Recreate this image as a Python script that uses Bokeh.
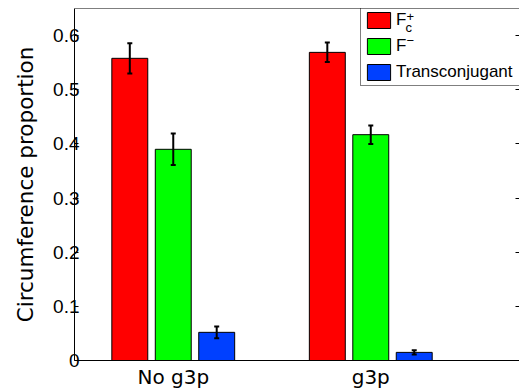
import numpy as np
from bokeh.plotting import figure
from bokeh.models import (ColumnDataSource, Whisker, TeeHead, FixedTicker, LinearAxis,
                          Range1d, Legend, LegendItem, Label, Span)
from bokeh.embed import file_html
from bokeh.resources import INLINE

# ---- data ----
categories = ["No g3p", "g3p"]
fc_plus = [0.558, 0.569]
fc_plus_err = [0.028, 0.018]
f_minus = [0.390, 0.417]
f_minus_err = [0.029, 0.017]
transconjugant = [0.052, 0.015]
transconjugant_err = [0.011, 0.004]
y_ticks = [0, 0.1, 0.2, 0.3, 0.4, 0.5, 0.6]
y_tick_labels = ["0", "0.1", "0.2", "0.3", "0.4", "0.5", "0.6"]
y_label = "Circumference proportion"

# ---- styling ----
FONT = "Liberation Sans"
FONT_W = "DejaVu Sans"
colors = ["#ff0000", "#00ff00", "#0040ff"]
offsets = [-0.22, 0.0, 0.22]
bar_w = 0.182

W, H = 519, 392
BL, BT, BB = 74, 8, 32
FW, FH = W - BL, H - BT - BB  # frame size (px)
X0, X1, Y0, Y1 = 0.5, 2.753, 0.0, 0.65

p = figure(width=W, height=H, output_backend="svg", toolbar_location=None,
           x_range=Range1d(X0, X1), y_range=Range1d(Y0, Y1),
           min_border_left=BL, min_border_right=0, min_border_top=BT,
           min_border_bottom=BB)
p.outline_line_color = None
p.xgrid.visible = False
p.ygrid.visible = False
p.background_fill_color = "white"

# x axis
group_pos = np.arange(1, len(categories) + 1)
p.xaxis.ticker = FixedTicker(ticks=list(group_pos))
p.xaxis.major_label_overrides = {int(g): c for g, c in zip(group_pos, categories)}
p.xaxis.major_tick_in = 0
p.xaxis.major_tick_out = 0
p.xaxis.minor_tick_line_color = None
p.xaxis.major_label_text_font = FONT_W
p.xaxis.major_label_text_font_size = "20px"
p.xaxis.major_label_text_color = "black"
p.xaxis.major_label_standoff = 4
p.xaxis.axis_line_color = "black"

# y axis
p.yaxis.ticker = FixedTicker(ticks=y_ticks)
p.yaxis.major_label_overrides = {t: l for t, l in zip(y_ticks, y_tick_labels)}
p.yaxis.major_tick_in = 4
p.yaxis.major_tick_out = 0
p.yaxis.minor_tick_line_color = None
p.yaxis.major_label_text_font = FONT
p.yaxis.major_label_text_font_size = "19px"
p.yaxis.major_label_text_color = "black"
p.yaxis.major_label_standoff = -5
p.yaxis.axis_label = y_label
p.yaxis.axis_label_text_font = FONT_W
p.yaxis.axis_label_text_font_size = "21.5px"
p.yaxis.axis_label_text_font_style = "normal"
p.yaxis.axis_label_text_color = "black"
p.yaxis.axis_label_standoff = 12
p.yaxis.axis_line_color = "black"

# right axis (ticks only, box style)
right = LinearAxis(ticker=FixedTicker(ticks=y_ticks),
                   major_label_overrides={t: "" for t in y_ticks},
                   major_tick_in=4, major_tick_out=0, axis_line_color=None,
                   major_label_standoff=0, minor_tick_line_color=None,
                   major_tick_line_color="black")
p.add_layout(right, "right")

# top frame line
p.add_layout(Span(location=Y1, dimension="width", line_color="black", line_width=1))

series = [(fc_plus, fc_plus_err), (f_minus, f_minus_err), (transconjugant, transconjugant_err)]
renderers = []
for (vals, errs), col, off in zip(series, colors, offsets):
    vals = np.array(vals)
    errs = np.array(errs)
    src = ColumnDataSource(dict(x=group_pos + off, top=vals,
                                upper=vals + errs, lower=vals - errs))
    r = p.vbar(x="x", top="top", width=bar_w, source=src, fill_color=col,
               line_color="black", line_width=1)
    renderers.append(r)
    w = Whisker(source=src, base="x", upper="upper", lower="lower",
                line_color="black", line_width=2, level="annotation",
                upper_head=TeeHead(size=5, line_width=2, line_color="black"),
                lower_head=TeeHead(size=5, line_width=2, line_color="black"))
    p.add_layout(w)


def px_to_data(sx, sy):
    """frame pixel offsets (from bottom-left) -> data coordinates"""
    return X0 + sx * (X1 - X0) / FW, Y0 + sy * (Y1 - Y0) / FH


sub_kw = dict(text_font=FONT, text_font_size="13px", text_color="black",
              text_baseline="alphabetic", text_align="left")
for (sx, sy), txt in [((331, FH - 19), "c"), ((332, FH - 8), "+"), ((332, FH - 32), "\u2212")]:
    dx, dy = px_to_data(sx, sy)
    p.add_layout(Label(x=dx, y=dy, text=txt, **sub_kw))

PAD, SP = 3, 6
leg_h = 2 * PAD + 3 * 20 + 2 * SP
legend = Legend(items=[LegendItem(label="F", renderers=[renderers[0]]),
                       LegendItem(label="F", renderers=[renderers[1]]),
                       LegendItem(label="Transconjugant", renderers=[renderers[2]])],
                location=(286, FH - leg_h), glyph_width=29, glyph_height=20,
                label_height=20, label_width=135, spacing=SP, padding=PAD, margin=0,
                border_line_color="black", border_line_width=1,
                label_text_font=FONT, label_text_font_size="17px",
                label_text_color="black", label_standoff=3,
                background_fill_color="white", background_fill_alpha=0.0)
p.add_layout(legend, "center")

open("out.html", "w").write(file_html(p, INLINE))
